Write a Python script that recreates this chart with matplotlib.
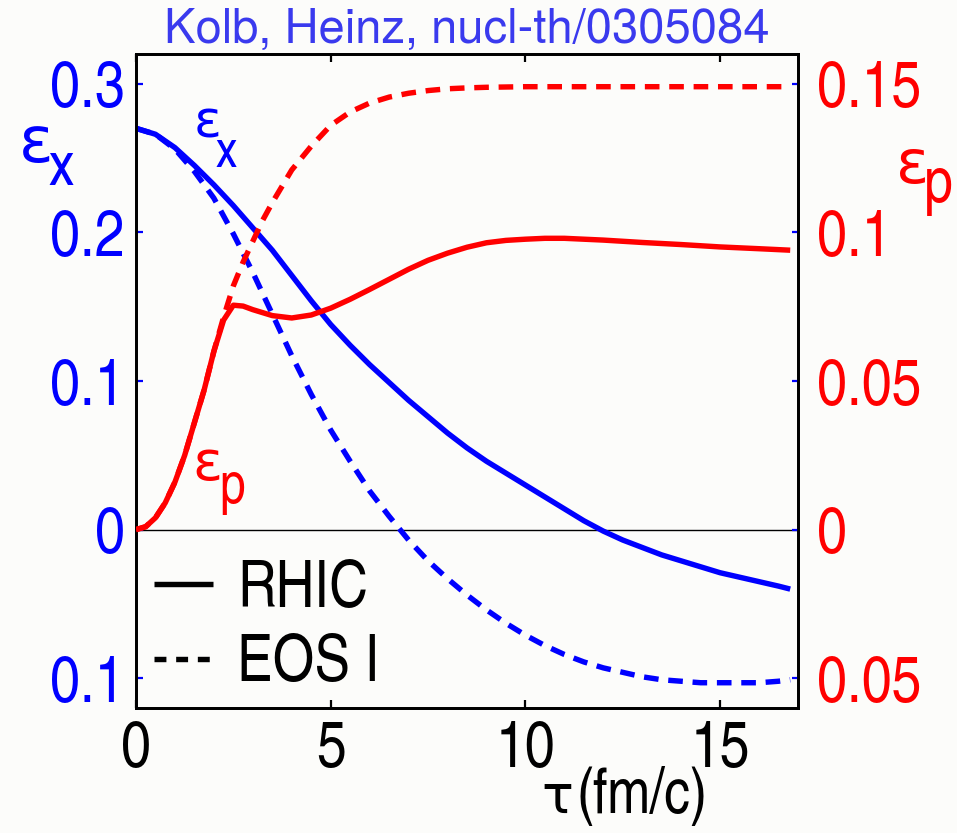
import matplotlib
matplotlib.use("Agg")
import matplotlib.pyplot as plt
from matplotlib.lines import Line2D

# ---- data -------------------------------------------------------------
tau = [0, 0.5, 1, 1.5, 2, 2.5, 3, 3.5, 4, 4.5, 5, 5.5, 6, 6.5, 7, 7.5, 8,
       8.5, 9, 9.5, 10, 10.5, 11, 11.5, 12, 12.5, 13, 13.5, 14, 14.5, 15,
       15.5, 16, 16.5, 16.8]

# spatial eccentricity, RHIC EOS (solid) and EOS I (dashed)
ex_rhic = [0.270, 0.266, 0.257, 0.245, 0.232, 0.218, 0.203, 0.188, 0.171,
           0.154, 0.138, 0.124, 0.111, 0.099, 0.087, 0.076, 0.065, 0.055,
           0.046, 0.038, 0.030, 0.022, 0.014, 0.006, -0.001, -0.007, -0.012,
           -0.017, -0.021, -0.025, -0.029, -0.032, -0.035, -0.038, -0.040]
ex_eos1 = [0.270, 0.266, 0.256, 0.241, 0.223, 0.199, 0.173, 0.145, 0.117,
           0.091, 0.067, 0.046, 0.026, 0.009, -0.007, -0.021, -0.033, -0.044,
           -0.054, -0.063, -0.071, -0.078, -0.084, -0.089, -0.093, -0.096,
           -0.099, -0.101, -0.102, -0.103, -0.103, -0.103, -0.103, -0.102,
           -0.101]

# momentum anisotropy
tau_p = [0, 0.25, 0.5, 0.75, 1, 1.25, 1.5, 1.75, 2, 2.25, 2.5, 2.75, 3, 3.25,
         3.5, 4, 4.5, 5, 5.5, 6, 6.5, 7, 7.5, 8, 8.5, 9, 9.5, 10, 10.5, 11,
         12, 13, 14, 15, 16, 16.8]
ep_rhic = [0.0, 0.001, 0.004, 0.009, 0.016, 0.025, 0.036, 0.047, 0.060,
           0.0705, 0.0755, 0.0752, 0.0740, 0.0730, 0.0720, 0.0712, 0.0722,
           0.0745, 0.0775, 0.0808, 0.0842, 0.0876, 0.0906, 0.0930, 0.0950,
           0.0965, 0.0973, 0.0977, 0.0980, 0.0980, 0.0974, 0.0966, 0.0959,
           0.0951, 0.0945, 0.0940]
ep_eos1 = [0.0, 0.001, 0.004, 0.009, 0.016, 0.025, 0.036, 0.047, 0.060,
           0.0715, 0.082, 0.090, 0.097, 0.104, 0.110, 0.121, 0.129, 0.136,
           0.1405, 0.1435, 0.1455, 0.1468, 0.1477, 0.1483, 0.1486, 0.1488,
           0.1489, 0.1490, 0.1490, 0.1490, 0.1490, 0.1490, 0.1490, 0.1490,
           0.1490, 0.1490]

x_ticks = [0, 5, 10, 15]
x_ticklabels = ["0", "5", "10", "15"]
left_ticks = [0.3, 0.2, 0.1, 0.0, -0.1]
left_ticklabels = ["0.3", "0.2", "0.1", "0", "0.1"]
right_ticks = [0.15, 0.1, 0.05, 0.0, -0.05]
right_ticklabels = ["0.15", "0.1", "0.05", "0", "0.05"]

title = "Kolb, Heinz, nucl-th/0305084"
legend_labels = ["RHIC", "EOS I"]

# ---- style ------------------------------------------------------------
BLUE = "#0000ff"
RED = "#ff0000"
TITLE_BLUE = "#3a3aee"
BG = "#fcfcfa"
NARROW = ["TeX Gyre Heros Cn", "Archivo Narrow", "DejaVu Sans"]
GREEK = ["Archivo Narrow", "DejaVu Sans"]
SANS = ["TeX Gyre Heros", "Liberation Sans", "DejaVu Sans"]
LW = 3.9
DASH = (2.7, 1.8)

fig = plt.figure(figsize=(9.57, 8.33), dpi=100, facecolor=BG)
W, H = 957, 833
ax = fig.add_axes([136 / W, 1 - 708 / H, (798 - 136) / W, (708 - 54) / H])
ax.set_facecolor(BG)
ax2 = ax.twinx()

ax.set_xlim(0, 17)
ax.set_ylim(-0.12, 0.32)
ax2.set_ylim(-0.06, 0.16)

ax.axhline(0, color="black", lw=1.0, zorder=1)

ax.plot(tau, ex_rhic, color=BLUE, lw=LW, solid_capstyle="butt", zorder=3)
ax.plot(tau, ex_eos1, color=BLUE, lw=LW, dashes=DASH, zorder=3)
ax2.plot(tau_p, ep_eos1, color=RED, lw=LW, dashes=DASH, zorder=3)
ax2.plot(tau_p, ep_rhic, color=RED, lw=LW, solid_capstyle="butt", zorder=3)

for sp in ax.spines.values():
    sp.set_linewidth(2.0)
for sp in ax2.spines.values():
    sp.set_linewidth(2.0)

ax.set_xticks(x_ticks)
ax.set_xticklabels(x_ticklabels, family=NARROW, fontsize=47)
ax.tick_params(axis="x", direction="in", length=6, width=1.6, top=True,
               color="black", pad=9)

ax.set_yticks(left_ticks)
ax.set_yticklabels(left_ticklabels, family=NARROW, fontsize=47, color=BLUE)
ax.tick_params(axis="y", direction="in", length=5, width=1.6, color=BLUE,
               pad=8)

ax2.set_yticks(right_ticks)
ax2.set_yticklabels(right_ticklabels, family=NARROW, fontsize=47, color=RED)
ax2.tick_params(axis="y", direction="in", length=4, width=1.6, color=BLUE,
                pad=14)


def fig_text(px, py, s, size, color, family=NARROW, **kw):
    fig.text(px / W, 1 - py / H, s, fontsize=size, color=color,
             family=family, va="baseline", **kw)


# axis symbols
fig_text(19, 162, "ε", 46, BLUE, family=GREEK)
fig_text(48, 185, "x", 44, BLUE)
fig_text(896, 183, "ε", 44, RED, family=GREEK)
fig_text(924, 203, "p", 46, RED)

# curve annotations
fig_text(194, 137, "ε", 37, BLUE, family=GREEK)
fig_text(216, 167, "x", 37, BLUE)
fig_text(192, 480, "ε", 40, RED, family=GREEK)
fig_text(219, 503, "p", 41, RED)

# x label and title
fig_text(541, 813, "τ", 38, "black", family=GREEK)
fig_text(577, 813, "(fm/c)", 45, "black")
fig_text(467, 43, title, 34, TITLE_BLUE, family=SANS, ha="center")

# legend
handles = [Line2D([], [], color="black", lw=LW, solid_capstyle="butt"),
           Line2D([], [], color="black", lw=LW, dashes=(2.2, 1.8))]
leg = ax.legend(handles, legend_labels, loc="upper left",
                bbox_to_anchor=(18 / 662, (708 - 560) / 654),
                frameon=False, borderpad=0, borderaxespad=0,
                handlelength=0.9, handletextpad=0.37, labelspacing=0.22,
                prop={"family": NARROW, "size": 47})

fig.savefig("out.png", dpi=100, facecolor=BG)
